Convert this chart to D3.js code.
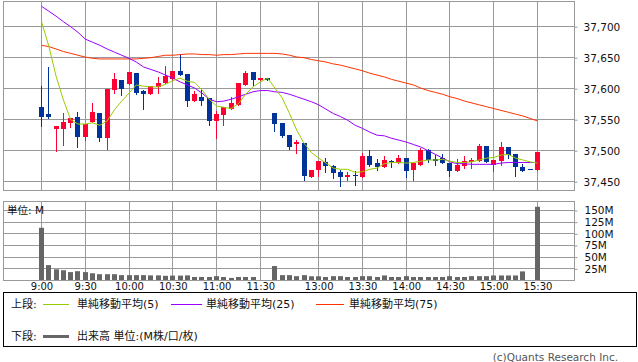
<!DOCTYPE html>
<html><head><meta charset="utf-8">
<script src="https://cdn.jsdelivr.net/npm/d3@7"></script>
<style>body{margin:0;background:#fff}svg{display:block}</style>
</head><body><svg id="c" width="638" height="362"></svg>
<script>
const opens=[37570,37560,37535,37535,37545,37554,37522,37546,37561,37520,37598,37614,37608,37625,37596,37591,37603,37609,37616,37629,37624,37580,37587,37585,37548,37557,37567,37574,37606,37627,37614,37617,37561,37545,37525,37511,37512,37458,37469,37482,37475,37466,37458,37461,37458,37491,37480,37474,37483,37480,37488,37469,37477,37501,37486,37488,37480,37468,37476,37482,37484,37508,37477,37484,37506,37495,37473,37470,37469];
const highs=[37605,37635,37540,37561,37553,37562,37543,37577,37561,37600,37625,37614,37627,37625,37598,37604,37619,37637,37629,37656,37624,37596,37600,37585,37564,37570,37587,37609,37629,37627,37617,37617,37561,37545,37525,37517,37512,37469,37483,37488,37477,37469,37466,37467,37496,37501,37487,37491,37485,37493,37488,37480,37504,37503,37493,37495,37480,37486,37491,37488,37510,37508,37485,37514,37506,37495,37479,37470,37498];
const lows=[37540,37553,37500,37509,37538,37506,37517,37546,37516,37503,37593,37590,37608,37591,37567,37591,37593,37609,37614,37622,37572,37580,37574,37541,37520,37541,37567,37574,37606,37606,37614,37614,37532,37522,37503,37496,37453,37458,37459,37466,37456,37443,37453,37445,37458,37475,37469,37474,37473,37480,37458,37452,37477,37482,37477,37480,37460,37468,37472,37472,37484,37482,37468,37477,37488,37460,37468,37470,37469];
const closes=[37555,37555,37540,37546,37553,37522,37543,37562,37520,37600,37616,37600,37627,37593,37591,37604,37609,37620,37629,37622,37580,37591,37580,37548,37559,37570,37577,37609,37625,37614,37617,37614,37543,37524,37506,37514,37459,37469,37483,37475,37464,37458,37461,37459,37491,37477,37474,37485,37481,37488,37468,37480,37501,37485,37484,37480,37468,37477,37483,37485,37508,37482,37485,37506,37493,37473,37468,37470,37498];
const volumes=[113,33,24,22,18,20,18,15.5,13.5,13.5,13.5,11.5,11.5,11.5,11.5,11,11,10,10.5,10.5,11,7.5,7.5,7.5,9.3,7.5,5.5,7.5,7.5,7.5,0.5,0,31,11.5,11.5,9.3,11.5,9,9,7.5,9.3,9.3,7.5,7.5,9.3,9.3,7.5,10.8,7.5,7.5,9.3,7.5,7.5,7.5,7.5,7.5,9.3,7.5,7.5,9.3,9.3,9.3,10.8,10.8,10.8,10.8,19.5,0,158];
const ma5=[37708,37669,37620,37582,37550,37543,37543,37545,37541,37548,37566,37580,37593,37606,37604,37603,37603,37607,37613,37617,37612,37610,37598,37583,37572,37570,37568,37576,37591,37603,37611,37617,37601,37585,37560,37533,37512,37497,37488,37480,37472,37470,37470,37465,37466,37470,37472,37479,37481,37481,37480,37481,37483,37485,37485,37486,37483,37481,37481,37482,37485,37488,37489,37493,37494,37488,37485,37482,37480];
const ma25=[37733,37725,37717,37708,37700,37691,37680,37675,37670,37664,37659,37654,37649,37643,37635,37631,37627,37622,37617,37611,37606,37601,37593,37583,37579,37580,37583,37587,37591,37595,37597,37597,37595,37594,37591,37587,37583,37579,37574,37567,37560,37555,37549,37541,37536,37530,37525,37524,37520,37517,37514,37510,37506,37500,37494,37488,37482,37479,37479,37478,37478,37478,37478,37480,37481,37481,37481,37481,37481];
const ma75=[37670,37668,37664,37660,37657,37654,37651,37649,37648,37648,37648,37648,37648,37648,37649,37650,37652,37654,37654,37655,37656,37656,37655,37655,37654,37655,37655,37656,37657,37657,37657,37657,37657,37656,37654,37651,37650,37647,37645,37643,37640,37638,37635,37632,37629,37625,37622,37619,37615,37612,37609,37606,37601,37597,37594,37591,37587,37584,37580,37577,37574,37571,37568,37565,37562,37559,37556,37552,37548];
const timeLabels=["9:00","9:30","10:00","10:30","11:00","11:30","13:00","13:30","14:00","14:30","15:00","15:30"];
const timeIndex=[0,6,12,18,24,30,38,44,50,56,62,68];
const priceTicks=[37450,37500,37550,37600,37650,37700];
const volumeTicks=[25,50,75,100,125,150];
const legendTop=[{name:"単純移動平均(5)",color:"#99cc00"},{name:"単純移動平均(25)",color:"#9900ff"},{name:"単純移動平均(75)",color:"#ff3300"}];

const svg=d3.select("#c");
const L=3.5,R=574.5,T1=1.5,B1=190.5,T2=201.5,B2=280.5;
const grid="#999";
const font="'DejaVu Sans', 'Noto Sans CJK JP', sans-serif";
const crisp=v=>Math.round(v-0.5)+0.5;

const x=d3.scaleLinear().domain([0,68]).range([41.5,537.5]);
const y=d3.scaleLinear().domain([37450,37700]).range([181.7,26.7]);
const vy=d3.scaleLinear().domain([0,150]).range([280.5,210.5]);

// grid lines
const g=svg.append("g").attr("stroke",grid).attr("stroke-width",1).attr("fill","none");
timeIndex.forEach(i=>{
  g.append("line").attr("x1",crisp(x(i))).attr("x2",crisp(x(i))).attr("y1",T1).attr("y2",B1);
  g.append("line").attr("x1",crisp(x(i))).attr("x2",crisp(x(i))).attr("y1",T2).attr("y2",B2);
});
priceTicks.forEach(p=>g.append("line").attr("x1",L).attr("x2",R).attr("y1",crisp(y(p))).attr("y2",crisp(y(p))));
volumeTicks.forEach(v=>g.append("line").attr("x1",L).attr("x2",R).attr("y1",crisp(vy(v))).attr("y2",crisp(vy(v))));
g.append("rect").attr("x",L).attr("y",T1).attr("width",R-L).attr("height",B1-T1);
g.append("rect").attr("x",L).attr("y",T2).attr("width",R-L).attr("height",B2-T2);

// candles
const idx=d3.range(opens.length);
const cg=svg.append("g");
idx.forEach(i=>{
  const col=closes[i]>opens[i]?"#ff0033":"#003399";
  const xc=Math.floor(x(i));
  cg.append("line").attr("x1",xc+0.5).attr("x2",xc+0.5)
    .attr("y1",Math.round(y(highs[i]))).attr("y2",Math.round(y(lows[i]))+1)
    .attr("stroke",col).attr("stroke-width",1);
  const yt=Math.round(y(Math.max(opens[i],closes[i])));
  const yb=Math.round(y(Math.min(opens[i],closes[i])));
  cg.append("rect").attr("x",xc-2).attr("y",yt).attr("width",5).attr("height",Math.max(1,yb-yt)).attr("fill",col);
});

// moving averages
const lineGen=arr=>d3.line().x((d,i)=>x(i)).y(d=>y(d))(arr);
[[ma75,"#ff3300"],[ma25,"#9900ff"],[ma5,"#99cc00"]].forEach(([arr,c])=>{
  svg.append("path").attr("d",lineGen(arr)).attr("fill","none").attr("stroke",c).attr("stroke-width",1);
});

// volume bars
svg.append("g").selectAll("rect").data(idx.filter(i=>volumes[i]>0)).join("rect")
  .attr("x",i=>Math.floor(x(i))-2).attr("width",5)
  .attr("y",i=>vy(volumes[i])).attr("height",i=>B2-vy(volumes[i])-0.5)
  .attr("fill","#666");

// axes
const pa=svg.append("g").attr("transform",`translate(${R},0)`)
  .call(d3.axisRight(y).tickValues(priceTicks).tickFormat(d3.format(",")).tickSize(3).tickPadding(6));
const va=svg.append("g").attr("transform",`translate(${R},0)`)
  .call(d3.axisRight(vy).tickValues(volumeTicks).tickFormat(d=>d+"M").tickSize(3).tickPadding(7));
const ta=svg.append("g").attr("transform",`translate(0,${B2})`)
  .call(d3.axisBottom(x).tickValues(timeIndex).tickFormat((d,k)=>timeLabels[k]).tickSize(0).tickPadding(2));
[pa,va,ta].forEach(a=>{
  a.select(".domain").remove();
  a.selectAll(".tick line").attr("stroke",grid);
  a.selectAll("text").attr("fill","#111").style("font-family",font).style("font-size","10.5px");
});
ta.selectAll("text").style("font-size","10px");

svg.append("text").attr("x",7).attr("y",214).text("単位: M").attr("fill","#111")
  .style("font-family",font).style("font-size","10.5px");

// legend
svg.append("rect").attr("x",3.5).attr("y",292.5).attr("width",633).attr("height",54).attr("fill","none").attr("stroke","#000");
const lt=(t,xx,yy)=>svg.append("text").attr("x",xx).attr("y",yy).text(t).attr("fill","#111")
  .style("font-family",font).style("font-size","11px");
lt("上段:",11,308);
const lx=[[43,69,77],[171,202,206],[316,344,349]];
legendTop.forEach((d,k)=>{
  svg.append("line").attr("x1",lx[k][0]).attr("x2",lx[k][1]).attr("y1",304.5).attr("y2",304.5).attr("stroke",d.color).attr("stroke-width",1);
  lt(d.name,lx[k][2],308);
});
lt("下段:",11,340);
svg.append("line").attr("x1",43).attr("x2",69).attr("y1",336.5).attr("y2",336.5).attr("stroke","#666").attr("stroke-width",3);
lt("出来高 単位:(M株/口/枚)",77,340);

svg.append("text").attr("x",618).attr("y",361).attr("text-anchor","end").text("(c)Quants Research Inc.")
  .attr("fill","#555").style("font-family",font).style("font-size","10.5px");
</script></body></html>
